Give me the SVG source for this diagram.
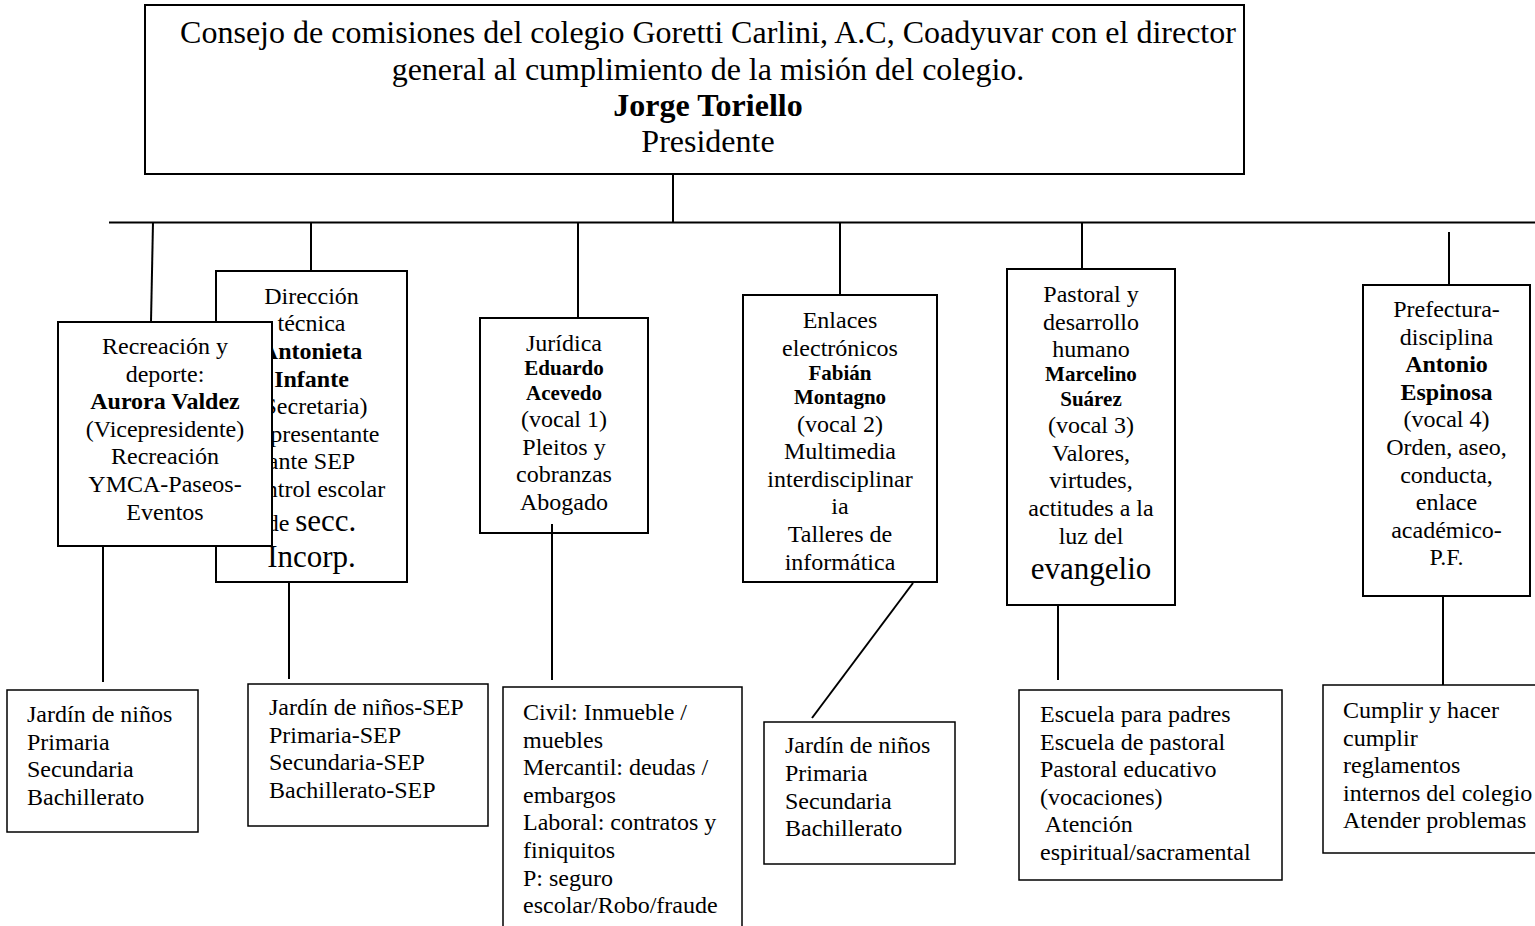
<svg xmlns="http://www.w3.org/2000/svg" width="1535" height="926" viewBox="0 0 1535 926">
<style>
.box{fill:#fff;stroke:#000;stroke-width:2}
.sub{fill:#fff;stroke:#000;stroke-width:1.5}
.ln{stroke:#000;stroke-width:2;fill:none}
text{font-family:"Liberation Serif","Times New Roman",serif;font-size:24px;fill:#000}
.c{text-anchor:middle}
.b{font-weight:bold}
.s21{font-size:21px}
.big{font-size:31px}
.top{font-size:32px}
</style>
<rect width="1535" height="926" fill="#fff"/>
<g id="node-consejo">
<rect class="box" x="145" y="5" width="1099" height="169"/>
<text class="c top" x="708" y="43">Consejo de comisiones del colegio Goretti Carlini, A.C, Coadyuvar con el director</text>
<text class="c top" x="708" y="79.5">general al cumplimiento de la misión del colegio.</text>
<text class="c top b" x="708" y="116">Jorge Toriello</text>
<text class="c top" x="708" y="152">Presidente</text>
</g>
<g id="node-direccion">
<rect class="box" x="216" y="271" width="191" height="311"/>
<text class="c" x="311.5" y="304">Dirección</text>
<text class="c" x="311.5" y="331">técnica</text>
<text class="c b" x="311.5" y="359">Antonieta</text>
<text class="c b" x="311.5" y="386.5">Infante</text>
<text class="c" x="311.5" y="414">(Secretaria)</text>
<text class="c" x="311.5" y="441.5">Representante</text>
<text class="c" x="311.5" y="469">ante SEP</text>
<text class="c" x="311.5" y="496.5">Control escolar</text>
<text class="c" x="311.5" y="531">de <tspan class="big">secc.</tspan></text>
<text class="c big" x="311.5" y="567">Incorp.</text>
</g>
<g id="node-recreacion">
<rect class="box" x="58" y="322" width="214" height="224"/>
<text class="c" x="165" y="354">Recreación y</text>
<text class="c" x="165" y="381.6">deporte:</text>
<text class="c b" x="165" y="409.2">Aurora Valdez</text>
<text class="c" x="165" y="436.8">(Vicepresidente)</text>
<text class="c" x="165" y="464.4">Recreación</text>
<text class="c" x="165" y="492">YMCA-Paseos-</text>
<text class="c" x="165" y="519.6">Eventos</text>
</g>
<g id="node-juridica">
<rect class="box" x="480" y="318" width="168" height="215"/>
<text class="c" x="564" y="351">Jurídica</text>
<text class="c b s21" x="564" y="375">Eduardo</text>
<text class="c b s21" x="564" y="399.5">Acevedo</text>
<text class="c" x="564" y="427">(vocal 1)</text>
<text class="c" x="564" y="454.5">Pleitos y</text>
<text class="c" x="564" y="482">cobranzas</text>
<text class="c" x="564" y="509.5">Abogado</text>
</g>
<g id="node-enlaces">
<rect class="box" x="743" y="295" width="194" height="287"/>
<text class="c" x="840" y="328">Enlaces</text>
<text class="c" x="840" y="355.6">electrónicos</text>
<text class="c b s21" x="840" y="379.8">Fabián</text>
<text class="c b s21" x="840" y="404">Montagno</text>
<text class="c" x="840" y="431.6">(vocal 2)</text>
<text class="c" x="840" y="459.2">Multimedia</text>
<text class="c" x="840" y="486.8">interdisciplinar</text>
<text class="c" x="840" y="514.4">ia</text>
<text class="c" x="840" y="542">Talleres de</text>
<text class="c" x="840" y="569.6">informática</text>
</g>
<g id="node-pastoral">
<rect class="box" x="1007" y="269" width="168" height="336"/>
<text class="c" x="1091" y="302">Pastoral y</text>
<text class="c" x="1091" y="329.6">desarrollo</text>
<text class="c" x="1091" y="357.2">humano</text>
<text class="c b s21" x="1091" y="381.4">Marcelino</text>
<text class="c b s21" x="1091" y="405.6">Suárez</text>
<text class="c" x="1091" y="433.2">(vocal 3)</text>
<text class="c" x="1091" y="460.8">Valores,</text>
<text class="c" x="1091" y="488.4">virtudes,</text>
<text class="c" x="1091" y="516">actitudes a la</text>
<text class="c" x="1091" y="543.6">luz del</text>
<text class="c big" x="1091" y="579">evangelio</text>
</g>
<g id="node-prefectura">
<rect class="box" x="1363" y="285" width="167" height="311"/>
<text class="c" x="1446.5" y="317">Prefectura-</text>
<text class="c" x="1446.5" y="344.6">disciplina</text>
<text class="c b" x="1446.5" y="372.2">Antonio</text>
<text class="c b" x="1446.5" y="399.8">Espinosa</text>
<text class="c" x="1446.5" y="427.4">(vocal 4)</text>
<text class="c" x="1446.5" y="455">Orden, aseo,</text>
<text class="c" x="1446.5" y="482.6">conducta,</text>
<text class="c" x="1446.5" y="510.2">enlace</text>
<text class="c" x="1446.5" y="537.8">académico-</text>
<text class="c" x="1446.5" y="565.4">P.F.</text>
</g>
<g id="node-niveles-recreacion">
<rect class="sub" x="7" y="690" width="191" height="142"/>
<text x="27" y="722">Jardín de niños</text>
<text x="27" y="749.6">Primaria</text>
<text x="27" y="777.2">Secundaria</text>
<text x="27" y="804.8">Bachillerato</text>
</g>
<g id="node-niveles-sep">
<rect class="sub" x="248" y="684" width="240" height="142"/>
<text x="269" y="715">Jardín de niños-SEP</text>
<text x="269" y="742.6">Primaria-SEP</text>
<text x="269" y="770.2">Secundaria-SEP</text>
<text x="269" y="797.8">Bachillerato-SEP</text>
</g>
<g id="node-areas-juridicas">
<rect class="sub" x="503" y="687" width="239" height="260"/>
<text x="523" y="720">Civil: Inmueble /</text>
<text x="523" y="747.6">muebles</text>
<text x="523" y="775.2">Mercantil: deudas /</text>
<text x="523" y="802.8">embargos</text>
<text x="523" y="830.4">Laboral: contratos y</text>
<text x="523" y="858">finiquitos</text>
<text x="523" y="885.6">P: seguro</text>
<text x="523" y="913.2">escolar/Robo/fraude</text>
</g>
<g id="node-niveles-enlaces">
<rect class="sub" x="764" y="722" width="191" height="142"/>
<text x="785" y="753.3">Jardín de niños</text>
<text x="785" y="780.9">Primaria</text>
<text x="785" y="808.5">Secundaria</text>
<text x="785" y="836.1">Bachillerato</text>
</g>
<g id="node-escuela-padres">
<rect class="sub" x="1019" y="690" width="263" height="190"/>
<text x="1040" y="722">Escuela para padres</text>
<text x="1040" y="749.6">Escuela de pastoral</text>
<text x="1040" y="777.2">Pastoral educativo</text>
<text x="1040" y="804.8">(vocaciones)</text>
<text x="1040" y="832.4" xml:space="preserve"> Atención</text>
<text x="1040" y="860">espiritual/sacramental</text>
</g>
<g id="node-reglamentos">
<rect class="sub" x="1323" y="685" width="220" height="168"/>
<text x="1343" y="718">Cumplir y hacer</text>
<text x="1343" y="745.6">cumplir</text>
<text x="1343" y="773.2">reglamentos</text>
<text x="1343" y="800.8">internos del colegio</text>
<text x="1343" y="828.4">Atender problemas</text>
</g>
<g id="connectors">
<line class="ln" x1="673" y1="174" x2="673" y2="222"/>
<line class="ln" x1="109" y1="222.5" x2="1535" y2="222.5"/>
<line class="ln" x1="153" y1="222" x2="151" y2="322"/>
<line class="ln" x1="311" y1="222" x2="311" y2="271"/>
<line class="ln" x1="578" y1="222" x2="578" y2="318"/>
<line class="ln" x1="840" y1="222" x2="840" y2="295"/>
<line class="ln" x1="1082" y1="222" x2="1082" y2="269"/>
<line class="ln" x1="1449" y1="232" x2="1449" y2="285"/>
<line class="ln" x1="103" y1="546" x2="103" y2="682"/>
<line class="ln" x1="289" y1="582" x2="289" y2="679"/>
<line class="ln" x1="552" y1="524" x2="552" y2="680"/>
<line class="ln" x1="913" y1="583" x2="812" y2="718"/>
<line class="ln" x1="1058" y1="605" x2="1058" y2="680"/>
<line class="ln" x1="1443" y1="596" x2="1443" y2="685"/>
</g>
</svg>
